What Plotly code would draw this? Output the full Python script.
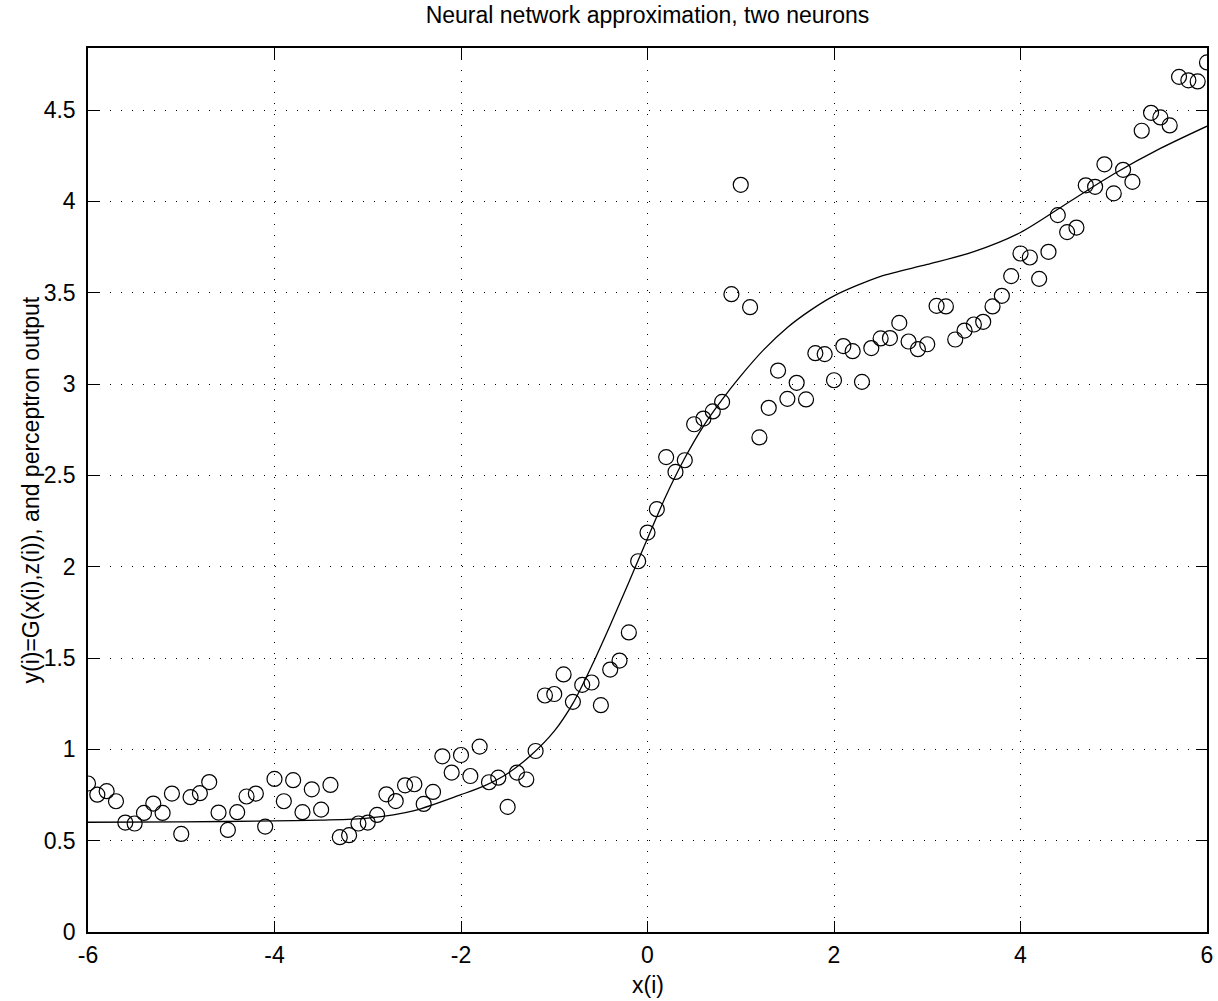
import plotly.graph_objects as go

# sample inputs x(i)
x_pts = [-6.0, -5.9, -5.8, -5.7, -5.6, -5.5, -5.4, -5.3, -5.2, -5.1,
         -5.0, -4.9, -4.8, -4.7, -4.6, -4.5, -4.4, -4.3, -4.2, -4.1,
         -4.0, -3.9, -3.8, -3.7, -3.6, -3.5, -3.4, -3.3, -3.2, -3.1,
         -3.0, -2.9, -2.8, -2.7, -2.6, -2.5, -2.4, -2.3, -2.2, -2.1,
         -2.0, -1.9, -1.8, -1.7, -1.6, -1.5, -1.4, -1.3, -1.2, -1.1,
         -1.0, -0.9, -0.8, -0.7, -0.6, -0.5, -0.4, -0.3, -0.2, -0.1,
         0.0, 0.1, 0.2, 0.3, 0.4, 0.5, 0.6, 0.7, 0.8, 0.9,
         1.0, 1.1, 1.2, 1.3, 1.4, 1.5, 1.6, 1.7, 1.8, 1.9,
         2.0, 2.1, 2.2, 2.3, 2.4, 2.5, 2.6, 2.7, 2.8, 2.9,
         3.0, 3.1, 3.2, 3.3, 3.4, 3.5, 3.6, 3.7, 3.8, 3.9,
         4.0, 4.1, 4.2, 4.3, 4.4, 4.5, 4.6, 4.7, 4.8, 4.9,
         5.0, 5.1, 5.2, 5.3, 5.4, 5.5, 5.6, 5.7, 5.8, 5.9, 6.0]

# observed outputs y(i)
y_pts = [0.813, 0.752, 0.771, 0.716, 0.599, 0.594, 0.652, 0.703, 0.652, 0.758,
         0.537, 0.738, 0.760, 0.821, 0.654, 0.559, 0.656, 0.742, 0.758, 0.577,
         0.838, 0.716, 0.831, 0.656, 0.781, 0.670, 0.805, 0.519, 0.530, 0.594,
         0.599, 0.641, 0.754, 0.717, 0.803, 0.809, 0.701, 0.767, 0.962, 0.873,
         0.969, 0.854, 1.015, 0.820, 0.845, 0.685, 0.873, 0.835, 0.991, 1.295,
         1.303, 1.410, 1.260, 1.353, 1.366, 1.242, 1.437, 1.486, 1.640, 2.030,
         2.187, 2.315, 2.600, 2.519, 2.583, 2.780, 2.811, 2.850, 2.902, 3.492,
         4.091, 3.421, 2.708, 2.870, 3.074, 2.919, 3.007, 2.916, 3.169, 3.164,
         3.021, 3.208, 3.180, 3.012, 3.197, 3.250, 3.252, 3.335, 3.233, 3.191,
         3.218, 3.428, 3.425, 3.244, 3.293, 3.326, 3.341, 3.425, 3.483, 3.591,
         3.715, 3.693, 3.576, 3.724, 3.925, 3.832, 3.857, 4.088, 4.080, 4.203,
         4.044, 4.173, 4.107, 4.387, 4.485, 4.460, 4.416, 4.682, 4.663, 4.657, 4.761]

# perceptron output
x_fit = [-6.0, -5.0, -4.0, -3.5, -3.0, -2.5, -2.0, -1.75, -1.5, -1.25,
         -1.0, -0.8, -0.6, -0.4, -0.2, 0.0, 0.2, 0.4, 0.6, 0.8,
         1.0, 1.25, 1.5, 1.75, 2.0, 2.5, 3.0, 3.5, 4.0, 4.5, 5.0, 5.5, 6.0]
y_fit = [0.601, 0.603, 0.608, 0.613, 0.624, 0.665, 0.752, 0.800, 0.868, 0.968,
         1.100, 1.252, 1.455, 1.680, 1.915, 2.155, 2.390, 2.595, 2.770, 2.915,
         3.045, 3.190, 3.310, 3.405, 3.483, 3.590, 3.655, 3.725, 3.830, 3.990, 4.150, 4.290, 4.412]

x_ticks = [-6, -4, -2, 0, 2, 4, 6]
y_ticks = [0, 0.5, 1, 1.5, 2, 2.5, 3, 3.5, 4, 4.5]
y_tick_labels = ["0", "0.5", "1", "1.5", "2", "2.5", "3", "3.5", "4", "4.5"]

FONT = "Liberation Sans, Arial, Helvetica, sans-serif"
FS = 23

fig = go.Figure()
fig.add_trace(go.Scatter(
    x=x_pts, y=y_pts, mode="markers",
    marker=dict(symbol="circle-open", size=15, color="black", line=dict(width=1.2, color="black")),
    showlegend=False, hoverinfo="x+y"))
fig.add_trace(go.Scatter(
    x=x_fit, y=y_fit, mode="lines", line=dict(color="black", width=1.3, shape="spline", smoothing=0.8),
    showlegend=False))

axis_common = dict(
    showline=True, linecolor="black", linewidth=1.5, mirror="allticks",
    ticks="inside", ticklen=11, tickwidth=1, tickcolor="black",
    showgrid=True, gridcolor="black", gridwidth=1, griddash="1px,10px",
    zeroline=False, tickfont=dict(family=FONT, size=FS, color="black"),
)

fig.update_xaxes(range=[-6, 6], tickvals=x_ticks, ticktext=[str(v) for v in x_ticks],
                 ticklabelstandoff=2, **axis_common)
fig.update_yaxes(range=[0, 4.84], tickvals=y_ticks, ticktext=y_tick_labels,
                 ticklabelstandoff=6, **axis_common)

fig.add_annotation(text="x(i)", xref="paper", yref="paper", x=0.5, y=-0.06,
                   xanchor="center", yanchor="middle", showarrow=False,
                   font=dict(family=FONT, size=FS, color="black"))
fig.add_annotation(text="y(i)=G(x(i),z(i)), and perceptron output", xref="paper", yref="paper",
                   x=-0.0505, y=0.5, xanchor="center", yanchor="middle", textangle=-90,
                   showarrow=False, font=dict(family=FONT, size=FS, color="black"))

fig.update_layout(
    width=1218, height=1001,
    margin=dict(l=88, r=11, t=48, b=69, autoexpand=False),
    paper_bgcolor="white", plot_bgcolor="white",
    title=dict(text="Neural network approximation, two neurons", x=0.5316, xanchor="center",
               y=0.985, yanchor="middle", font=dict(family=FONT, size=FS, color="black")),
    font=dict(family=FONT, color="black"),
)

fig.write_html("out.html", config={"displayModeBar": False},
               post_script="document.body.style.margin='0px';document.body.style.padding='0px';")
